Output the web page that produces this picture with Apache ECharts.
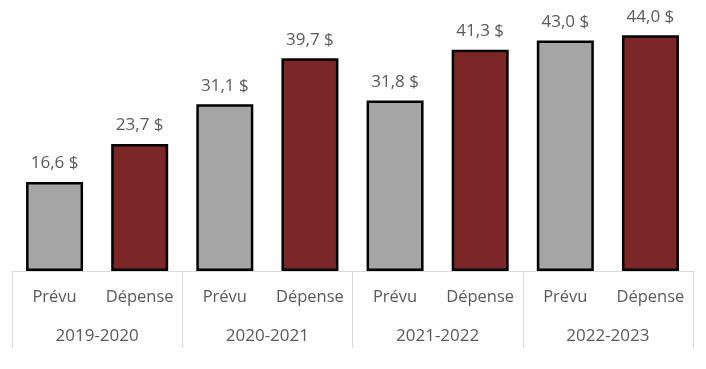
<!DOCTYPE html>
<html><head><meta charset="utf-8">
<script src="https://cdn.jsdelivr.net/npm/echarts@6/dist/echarts.min.js"></script>
<style>html,body{margin:0;padding:0;background:#fff}#c{width:706px;height:369px}</style>
</head><body><div id="c"></div>
<script>
const years = ['2019-2020','2020-2021','2021-2022','2022-2023'];
const kinds = ['Prévu','Dépense'];
const prevu = [16.6, 31.1, 31.8, 43.0];
const depense = [23.7, 39.7, 41.3, 44.0];

const cats = [];
const vals = [];
years.forEach((y,i)=>{ cats.push(kinds[0]); vals.push(prevu[i]); cats.push(kinds[1]); vals.push(depense[i]); });

const GRAY = '#A5A5A5', RED = '#7B2727', TXT = '#595959', FONT = 'Open Sans';
const chart = echarts.init(document.getElementById('c'));
chart.setOption({
  animation:false,
  grid:{left:12,right:13,top:3,bottom:98},
  xAxis:[
    {type:'category',data:cats,position:'bottom',
     axisLine:{show:true,lineStyle:{color:'#D9D9D9',width:1}},
     axisTick:{show:false},
     axisLabel:{interval:0,hideOverlap:false,color:TXT,fontSize:16.5,fontFamily:FONT,margin:18}},
    {type:'category',data:years,position:'bottom',
     axisLine:{show:true,lineStyle:{color:'#D9D9D9',width:1}},
     axisTick:{show:true,length:77,lineStyle:{color:'#D9D9D9',width:1}},
     axisLabel:{interval:0,color:TXT,fontSize:17,fontFamily:FONT,margin:57}}
  ],
  yAxis:{type:'value',min:0,max:50,show:false,splitLine:{show:false}},
  series:[{
    type:'bar',data:vals,barWidth:57,
    itemStyle:{borderColor:'#000',borderWidth:2.5,color:p=>p.dataIndex%2?RED:GRAY},
    label:{show:true,position:'top',distance:10,color:TXT,fontSize:17,fontFamily:FONT,
      formatter:p=>p.value.toFixed(1).replace('.',',')+' $'}
  }]
});
</script></body></html>
